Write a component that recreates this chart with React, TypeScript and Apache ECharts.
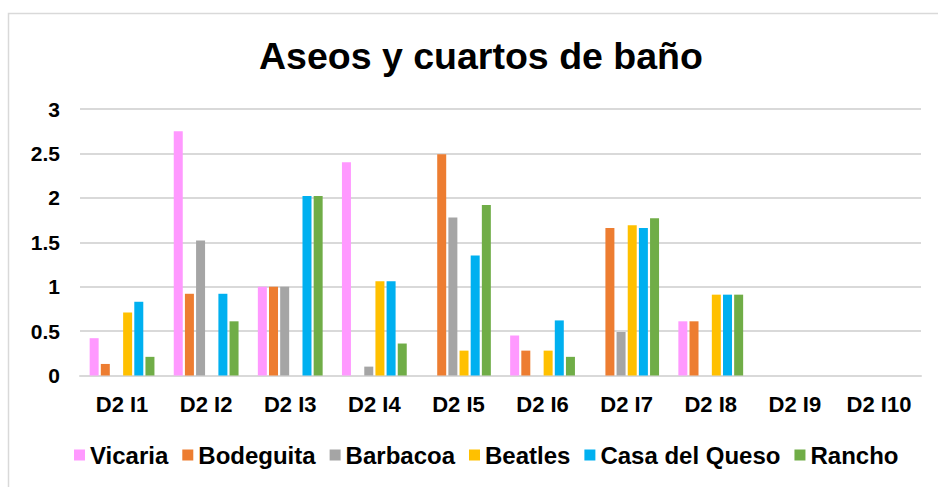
import React, { useEffect, useRef } from "react";
import * as echarts from "echarts";

const titleText = "Aseos y cuartos de baño";
const categories = ["D2 I1", "D2 I2", "D2 I3", "D2 I4", "D2 I5", "D2 I6", "D2 I7", "D2 I8", "D2 I9", "D2 I10"];
const seriesNames = ["Vicaria", "Bodeguita", "Barbacoa", "Beatles", "Casa del Queso", "Rancho"];
const vicaria = [0.42, 2.75, 1.0, 2.4, 0, 0.45, 0, 0.61, 0, 0];
const bodeguita = [0.13, 0.92, 1.0, 0, 2.49, 0.28, 1.66, 0.61, 0, 0];
const barbacoa = [0, 1.52, 1.0, 0.1, 1.78, 0, 0.49, 0, 0, 0];
const beatles = [0.71, 0, 0, 1.06, 0.28, 0.28, 1.69, 0.91, 0, 0];
const casaDelQueso = [0.83, 0.92, 2.02, 1.06, 1.35, 0.62, 1.66, 0.91, 0, 0];
const rancho = [0.21, 0.61, 2.02, 0.36, 1.92, 0.21, 1.77, 0.91, 0, 0];
const seriesValues = [vicaria, bodeguita, barbacoa, beatles, casaDelQueso, rancho];
const colors = ["#FF99FF", "#ED7D31", "#A5A5A5", "#FFC000", "#00B0F0", "#70AD47"];

const FONT = "'Liberation Sans', Arial, sans-serif";

export default function App() {
  const ref = useRef<HTMLDivElement>(null);
  useEffect(() => {
    if (!ref.current) return;
    const chart = echarts.init(ref.current, null, { renderer: "svg" });
    chart.setOption({
      animation: false,
      backgroundColor: "#ffffff",
      color: colors,
      title: {
        text: titleText,
        left: 254,
        top: 32,
        textStyle: { fontFamily: FONT, fontSize: 37.5, fontWeight: "bold", color: "#000" },
      },
      graphic: [
        {
          type: "rect",
          shape: { x: 8.5, y: 13.5, width: 1000, height: 1000 },
          style: { fill: "none", stroke: "#d9d9d9", lineWidth: 1.5 },
          silent: true,
        },
      ],
      legend: {
        left: 69,
        top: 438,
        itemWidth: 11,
        itemHeight: 11,
        itemGap: 14,
        icon: "rect",
        data: seriesNames,
        textStyle: { fontFamily: FONT, fontSize: 24, fontWeight: "bold", color: "#000" },
      },
      grid: { left: 80, right: 17, top: 109, bottom: 111.5, containLabel: false },
      xAxis: {
        type: "category",
        data: categories,
        axisLine: { lineStyle: { color: "#d9d9d9", width: 2 } },
        axisTick: { show: false },
        axisLabel: {
          interval: 0,
          margin: 18,
          fontFamily: FONT,
          fontSize: 22,
          fontWeight: "bold",
          color: "#000",
        },
      },
      yAxis: {
        type: "value",
        min: 0,
        max: 3,
        interval: 0.5,
        axisLine: { show: false },
        axisTick: { show: false },
        splitLine: { lineStyle: { color: "#d9d9d9", width: 2 } },
        axisLabel: {
          margin: 20,
          fontFamily: FONT,
          fontSize: 21,
          fontWeight: "bold",
          color: "#000",
        },
      },
      series: seriesNames.map((name, i) => ({
        name,
        type: "bar",
        data: seriesValues[i],
        barWidth: 9,
        barGap: "24%",
        itemStyle: { color: colors[i] },
      })),
    });
    return () => chart.dispose();
  }, []);
  return (
    <div
      ref={ref}
      style={{ position: "fixed", left: 0, top: 0, width: 938, height: 487 }}
    />
  );
}
